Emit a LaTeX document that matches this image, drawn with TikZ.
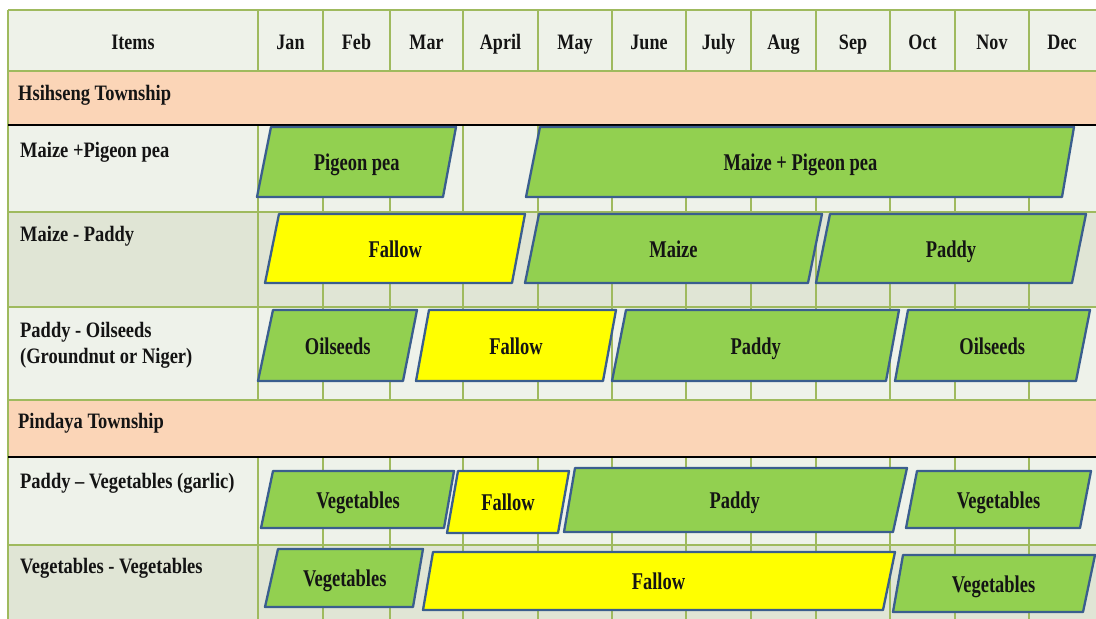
\documentclass[tikz,border=0pt]{standalone}
\usepackage{fontspec}
\setmainfont{Liberation Serif}
\newfontfamily\rowfont{Liberation Serif}[FakeStretch=0.84]
\newfontfamily\cellfont{Liberation Serif}[FakeStretch=0.77]
\newfontfamily\hdfont{Liberation Serif}[FakeStretch=0.82]
\definecolor{gridc}{HTML}{9FBA5E}
\definecolor{peach}{HTML}{FBD5B7}
\definecolor{hdrbg}{HTML}{EEF2E9}
\definecolor{lightrow}{HTML}{EEF2EA}
\definecolor{darkrow}{HTML}{E0E5D5}
\definecolor{bordblue}{HTML}{3A5E8E}
\definecolor{cropgreen}{HTML}{92D050}
\definecolor{fallowy}{HTML}{FFFF00}
\definecolor{txt}{HTML}{141414}
\newcommand\cropshape[9]{%
  \draw[#2] (#3,#5) -- (#4,#5) -- (#7,#8) -- (#6,#8) -- cycle;
  \node[cell] (#1) at ({(#3+#4+#6+#7)/4},{(#5+#8)/2+8.5}) {#9};
}
\begin{document}
\begin{tikzpicture}[x=1pt,y=-1pt,
  gridline/.style={draw=gridc, line width=1.6pt},
  blackline/.style={draw=black, line width=2.2pt},
  hdr/.style={anchor=base, text=txt, font=\hdfont\bfseries\fontsize{22}{24}\selectfont, inner sep=0pt},
  rowlbl/.style={anchor=base west, text=txt, font=\rowfont\bfseries\fontsize{22}{24}\selectfont, inner sep=0pt},
  cell/.style={anchor=base, text=txt, font=\cellfont\bfseries\fontsize{24}{26}\selectfont, inner sep=0pt},
  greenbox/.style={fill=cropgreen, draw=bordblue, line width=2.3pt, line join=round},
  fallowbox/.style={fill=fallowy, draw=bordblue, line width=2.3pt, line join=round}]
\useasboundingbox (0,0) rectangle (1096,619);
\clip (0,0) rectangle (1096,619);
\fill[white] (0,0) rectangle (1096,619);
% row backgrounds
\fill[hdrbg] (8,10) rectangle (1100,71);
\fill[peach] (8,71) rectangle (1100,125);
\fill[lightrow] (8,125) rectangle (1100,212);
\fill[darkrow] (8,212) rectangle (1100,307);
\fill[lightrow] (8,307) rectangle (1100,400);
\fill[peach] (8,400) rectangle (1100,457);
\fill[lightrow] (8,457) rectangle (1100,545);
\fill[darkrow] (8,545) rectangle (1100,625);
% vertical grid lines
\foreach \x in {8,258,323,390,463,538,612,686,751,816,890,955,1029}{
  \draw[gridline] (\x,10) -- (\x,71);
  \draw[gridline] (\x,125) -- (\x,400);
  \draw[gridline] (\x,457) -- (\x,625);
}
\draw[gridline] (8,71) -- (8,125);
\draw[gridline] (8,400) -- (8,457);
% horizontal grid lines
\foreach \y in {10,71,212,307,400,545}{
  \draw[gridline] (8,\y) -- (1100,\y);
}
\draw[blackline] (8,125) -- (1100,125);
\draw[blackline] (8,457) -- (1100,457);
% header
\node[hdr] (items) at (133,49) {Items};
\node[hdr] (jan) at (290.5,49) {Jan};
\node[hdr] (feb) at (356.5,49) {Feb};
\node[hdr] (mar) at (426.5,49) {Mar};
\node[hdr] (apr) at (500.5,49) {April};
\node[hdr] (may) at (575,49) {May};
\node[hdr] (jun) at (649,49) {June};
\node[hdr] (jul) at (718.5,49) {July};
\node[hdr] (aug) at (783.5,49) {Aug};
\node[hdr] (sep) at (853,49) {Sep};
\node[hdr] (oct) at (922.5,49) {Oct};
\node[hdr] (nov) at (992,49) {Nov};
\node[hdr] (dec) at (1062,49) {Dec};
% row labels
\node[rowlbl] (hsih) at (18,100) {Hsihseng Township};
\node[rowlbl] (r1) at (20,157) {Maize +Pigeon pea};
\node[rowlbl] (r2) at (20,241) {Maize - Paddy};
\node[rowlbl] (r3a) at (20,337) {Paddy - Oilseeds};
\node[rowlbl] (r3b) at (20,363) {(Groundnut or Niger)};
\node[rowlbl] (pind) at (18,428) {Pindaya Township};
\node[rowlbl] (r5) at (20,488) {Paddy – Vegetables (garlic)};
\node[rowlbl] (r6) at (20,573) {Vegetables - Vegetables};
% row 1
\cropshape{a1}{greenbox}{271}{456}{127}{257}{443}{197}{Pigeon pea}
\cropshape{a2}{greenbox}{540}{1074}{127}{526}{1062}{197}{Maize + Pigeon pea}
% row 2
\cropshape{b1}{fallowbox}{279}{525}{214}{265}{512}{283}{Fallow}
\cropshape{b2}{greenbox}{539}{822}{214}{525}{808}{283}{Maize}
\cropshape{b3}{greenbox}{830}{1086}{214}{816}{1072}{283}{Paddy}
% row 3
\cropshape{c1}{greenbox}{273}{417}{310}{258}{403}{381}{Oilseeds}
\cropshape{c2}{fallowbox}{429}{616}{310}{416}{603}{381}{Fallow}
\cropshape{c3}{greenbox}{626}{899}{310}{612}{886}{381}{Paddy}
\cropshape{c4}{greenbox}{908}{1090}{310}{895}{1076}{381}{Oilseeds}
% row 5
\cropshape{d1}{greenbox}{273}{454}{471}{261}{444}{528}{Vegetables}
\cropshape{d2}{fallowbox}{458}{569}{471}{447}{558}{533}{Fallow}
\cropshape{d3}{greenbox}{575}{907}{468}{564}{893}{532}{Paddy}
\cropshape{d4}{greenbox}{917}{1091}{471}{906}{1080}{528}{Vegetables}
% row 6
\cropshape{e1}{greenbox}{278}{423}{549}{265}{413}{607}{Vegetables}
\cropshape{e2}{fallowbox}{433}{895}{552}{423}{883}{610}{Fallow}
\cropshape{e3}{greenbox}{903}{1095}{555}{893}{1083}{612}{Vegetables}
\end{tikzpicture}
\end{document}
